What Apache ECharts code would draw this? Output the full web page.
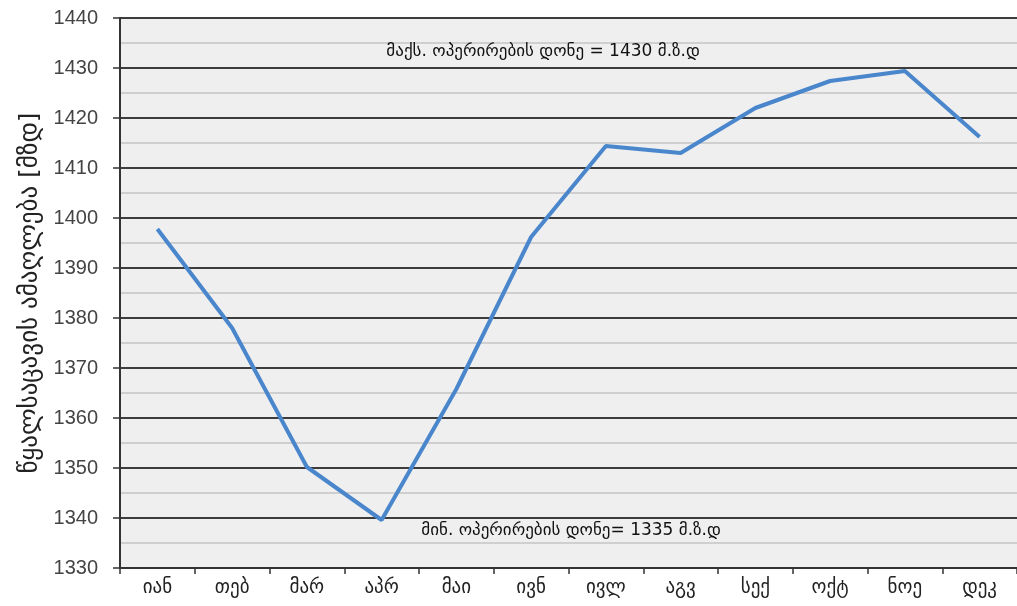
<!DOCTYPE html>
<html>
<head>
<meta charset="utf-8">
<script src="https://cdn.jsdelivr.net/npm/echarts@6/dist/echarts.min.js"></script>
<style>
html,body{margin:0;padding:0;background:#fff;}
#c{width:1017px;height:606px;}
</style>
</head>
<body>
<div id="c"></div>
<script>
const months = ['იან','თებ','მარ','აპრ','მაი','ივნ','ივლ','აგვ','სექ','ოქტ','ნოე','დეკ'];
const elevation = [1397.8, 1378, 1350.2, 1339.6, 1365.8, 1396.2, 1414.4, 1413, 1422, 1427.4, 1429.4, 1416.2];
const yTicks = [1330, 1440, 10];
const yTitle = 'წყალსაცავის ამაღლება [მზდ]';
const maxNote = 'მაქს. ოპერირების დონე = 1430 მ.ზ.დ';
const minNote = 'მინ. ოპერირების დონე= 1335 მ.ზ.დ';

const chart = echarts.init(document.getElementById('c'));
chart.setOption({
  animation: false,
  backgroundColor: '#ffffff',
  grid: {left: 120, top: 18, width: 906, height: 550, show: true, backgroundColor: '#efefef', borderWidth: 0},
  xAxis: {
    type: 'category',
    data: months,
    boundaryGap: true,
    axisLine: {show: true, lineStyle: {color: '#333', width: 2}},
    axisTick: {show: true, length: 6, lineStyle: {color: '#333', width: 1.5}},
    axisLabel: {color: '#222', fontSize: 19, fontFamily: 'DejaVu Sans', margin: 11},
    splitLine: {show: false}
  },
  yAxis: {
    type: 'value',
    min: yTicks[0], max: yTicks[1], interval: yTicks[2],
    name: yTitle,
    nameLocation: 'middle',
    nameGap: 77,
    nameTextStyle: {fontSize: 25, color: '#222', fontFamily: 'DejaVu Sans'},
    axisLine: {show: true, lineStyle: {color: '#333', width: 2}},
    axisTick: {show: true, length: 7, lineStyle: {color: '#333', width: 1.5}},
    axisLabel: {color: '#444', fontSize: 20, fontFamily: 'Liberation Sans', margin: 22, formatter: v => String(v)},
    splitLine: {show: true, lineStyle: {color: '#3c3c3c', width: 2}},
    minorTick: {show: false, splitNumber: 2},
    minorSplitLine: {show: true, lineStyle: {color: '#cfcfcf', width: 2}}
  },
  series: [{
    type: 'line',
    data: elevation,
    symbol: 'none',
    lineStyle: {color: '#4a86cc', width: 4},
    markPoint: {
      symbol: 'circle', symbolSize: 0,
      label: {show: true, color: '#111', fontSize: 17, fontFamily: 'DejaVu Sans'},
      data: [
        {coord: ['ივნ', 1433.2], value: 0, label: {formatter: maxNote, offset: [12, 0]}},
        {coord: ['ივნ', 1337.4], value: 0, label: {formatter: minNote, offset: [40, 0]}}
      ]
    }
  }]
});
</script>
</body>
</html>
